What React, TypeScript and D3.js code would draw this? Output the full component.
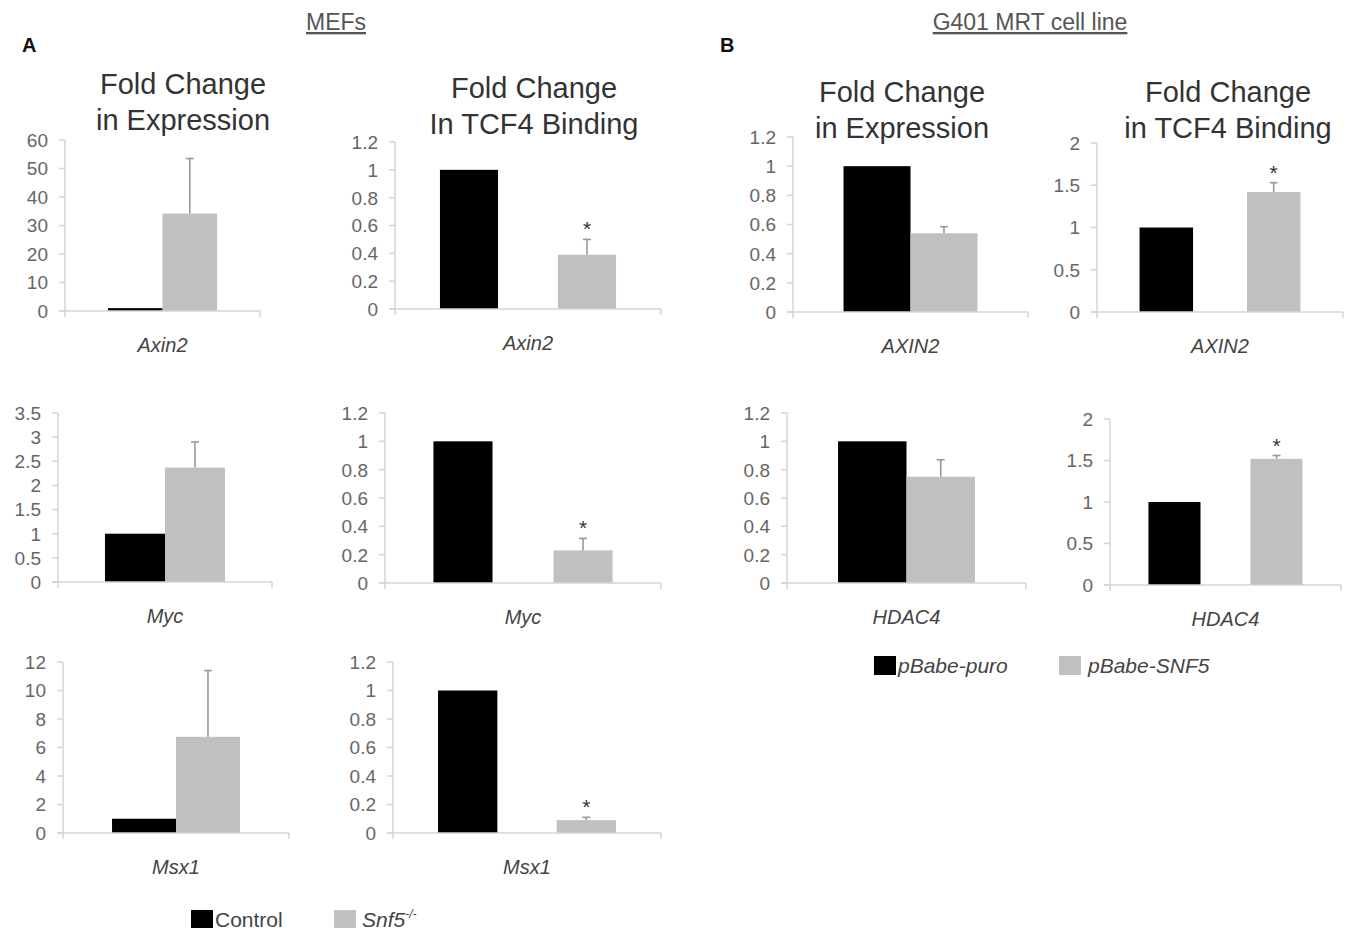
import * as d3 from 'd3'

// MEFs (panel A)
const genesA = ['Axin2', 'Myc', 'Msx1']
const exprControlA = [1, 1, 1]
const exprSnf5A = [34.2, 2.37, 6.75]
const exprSnf5ErrA = [19.3, 0.53, 4.65]
const exprTicksA = [
  [0, 10, 20, 30, 40, 50, 60],
  [0, 0.5, 1, 1.5, 2, 2.5, 3, 3.5],
  [0, 2, 4, 6, 8, 10, 12],
]
const bindControlA = [1, 1, 1]
const bindSnf5A = [0.39, 0.23, 0.09]
const bindSnf5ErrA = [0.11, 0.085, 0.02]
const bindTicksA = [0, 0.2, 0.4, 0.6, 0.8, 1, 1.2]

// G401 cell line (panel B)
const genesB = ['AXIN2', 'HDAC4']
const exprPuroB = [1, 1]
const exprSnf5B = [0.54, 0.75]
const exprSnf5ErrB = [0.045, 0.12]
const exprTicksB = [0, 0.2, 0.4, 0.6, 0.8, 1, 1.2]
const bindPuroB = [1, 1]
const bindSnf5B = [1.42, 1.52]
const bindSnf5ErrB = [0.11, 0.04]
const bindTicksB = [0, 0.5, 1, 1.5, 2]

const BLACK = '#000'
const GREY = '#c0c0c0'
const AXIS = '#d4d4d4'
const FONT = "'Liberation Sans', Arial, sans-serif"

interface PanelProps {
  gene: string
  values: number[]      // [control, treated]
  err: number
  ticks: number[]
  star?: boolean
  x0: number
  x1: number
  yTop: number
  yBot: number
  groupFrac: number     // share of the axis taken by the two bars
  innerPad: number
}

function Panel({ gene, values, err, ticks, star, x0, x1, yTop, yBot, groupFrac, innerPad }: PanelProps) {
  const outer = (1 / groupFrac - 1) / 2
  const xCat = d3.scaleBand().domain([gene]).range([x0, x1]).paddingInner(0).paddingOuter(outer)
  const xSer = d3.scaleBand().domain(['a', 'b']).range([0, xCat.bandwidth()]).paddingInner(innerPad)
  const y = d3.scaleLinear().domain([0, d3.max(ticks)!]).range([yBot, yTop])
  const gx = xCat(gene)!
  const bw = xSer.bandwidth()
  const errTop = y(values[1] + err)
  const cx = gx + xSer('b')! + bw / 2

  return (
    <g>
      {ticks.map(t => (
        <g key={t}>
          <line x1={x0 - 6} x2={x0} y1={y(t)} y2={y(t)} stroke={AXIS} strokeWidth={1.5} />
          <text x={x0 - 17} y={y(t)} dy="0.36em" textAnchor="end" fontSize={19} fill="#666" fontFamily={FONT}>
            {t}
          </text>
        </g>
      ))}
      <line x1={x0} x2={x0} y1={yTop} y2={yBot} stroke={AXIS} strokeWidth={1.5} />
      <rect x={gx + xSer('a')!} y={y(values[0])} width={bw} height={yBot - y(values[0])} fill={BLACK} />
      <rect x={gx + xSer('b')!} y={y(values[1])} width={bw} height={yBot - y(values[1])} fill={GREY} />
      <line x1={cx} x2={cx} y1={y(values[1])} y2={errTop} stroke="#999" strokeWidth={1.6} />
      <line x1={cx - 4} x2={cx + 4} y1={errTop} y2={errTop} stroke="#999" strokeWidth={1.6} />
      {star && (
        <text x={cx} y={errTop - 3} textAnchor="middle" fontSize={21} fill="#333" fontFamily={FONT}>*</text>
      )}
      <line x1={x0 - 6} x2={x1} y1={yBot} y2={yBot} stroke={AXIS} strokeWidth={1.5} />
      <line x1={x0} x2={x0} y1={yBot} y2={yBot + 6} stroke={AXIS} strokeWidth={1.5} />
      <line x1={x1} x2={x1} y1={yBot} y2={yBot + 6} stroke={AXIS} strokeWidth={1.5} />
      <text x={(x0 + x1) / 2} y={yBot + 41} textAnchor="middle" fontSize={20} fontStyle="italic" fill="#444" fontFamily={FONT}>
        {gene}
      </text>
    </g>
  )
}

function Title({ x, y, lines }: { x: number; y: number; lines: string[] }) {
  return (
    <text x={x} y={y} textAnchor="middle" fontSize={29} fill="#333" fontFamily={FONT}>
      {lines.map((l, i) => (
        <tspan key={i} x={x} dy={i === 0 ? 0 : 36}>{l}</tspan>
      ))}
    </text>
  )
}

// layout of the ten plots (axis left/right, top tick, zero line)
const layoutA = [
  { expr: { x0: 65, x1: 260, yTop: 140, yBot: 311, groupFrac: 0.56, innerPad: 0 },
    bind: { x0: 395, x1: 661, yTop: 142, yBot: 309, groupFrac: 0.662, innerPad: 0.508 } },
  { expr: { x0: 58, x1: 272, yTop: 413, yBot: 582, groupFrac: 0.561, innerPad: 0 },
    bind: { x0: 385, x1: 661, yTop: 413, yBot: 583, groupFrac: 0.649, innerPad: 0.508 } },
  { expr: { x0: 63, x1: 289, yTop: 662, yBot: 833, groupFrac: 0.566, innerPad: 0 },
    bind: { x0: 393, x1: 661, yTop: 662, yBot: 833, groupFrac: 0.664, innerPad: 0.5 } },
]
const layoutB = [
  { expr: { x0: 793, x1: 1028, yTop: 137, yBot: 312, groupFrac: 0.57, innerPad: 0 },
    bind: { x0: 1097, x1: 1343, yTop: 143, yBot: 312, groupFrac: 0.654, innerPad: 0.502 } },
  { expr: { x0: 787, x1: 1026, yTop: 413, yBot: 583, groupFrac: 0.573, innerPad: 0 },
    bind: { x0: 1110, x1: 1341, yTop: 419, yBot: 585, groupFrac: 0.667, innerPad: 0.49 } },
]

export default function App() {
  return (
    <svg width={1353} height={931} style={{ position: 'absolute', left: 0, top: 0, background: '#fff' }}>
      <rect width={1353} height={931} fill="#fff" />

      <text x={336} y={30} textAnchor="middle" fontSize={23} fill="#555" fontFamily={FONT} textDecoration="underline">MEFs</text>
      <text x={1030} y={30} textAnchor="middle" fontSize={23} fill="#555" fontFamily={FONT} textDecoration="underline">G401 MRT cell line</text>
      <text x={22} y={52} fontSize={20} fontWeight="bold" fill="#111" fontFamily={FONT}>A</text>
      <text x={720} y={52} fontSize={20} fontWeight="bold" fill="#111" fontFamily={FONT}>B</text>

      <Title x={183} y={94} lines={['Fold Change', 'in Expression']} />
      <Title x={534} y={98} lines={['Fold Change', 'In TCF4 Binding']} />
      <Title x={902} y={102} lines={['Fold Change', 'in Expression']} />
      <Title x={1228} y={102} lines={['Fold Change', 'in TCF4 Binding']} />

      {genesA.map((g, i) => (
        <g key={g}>
          <Panel gene={g} values={[exprControlA[i], exprSnf5A[i]]} err={exprSnf5ErrA[i]} ticks={exprTicksA[i]} {...layoutA[i].expr} />
          <Panel gene={g} values={[bindControlA[i], bindSnf5A[i]]} err={bindSnf5ErrA[i]} ticks={bindTicksA} star {...layoutA[i].bind} />
        </g>
      ))}
      {genesB.map((g, i) => (
        <g key={g}>
          <Panel gene={g} values={[exprPuroB[i], exprSnf5B[i]]} err={exprSnf5ErrB[i]} ticks={exprTicksB} {...layoutB[i].expr} />
          <Panel gene={g} values={[bindPuroB[i], bindSnf5B[i]]} err={bindSnf5ErrB[i]} ticks={bindTicksB} star {...layoutB[i].bind} />
        </g>
      ))}

      {/* legend A */}
      <rect x={191} y={910} width={22} height={18} fill={BLACK} />
      <text x={215} y={927} fontSize={21} fill="#444" fontFamily={FONT}>Control</text>
      <rect x={334} y={910} width={22} height={18} fill={GREY} />
      <text x={362} y={927} fontSize={21} fontStyle="italic" fill="#444" fontFamily={FONT}>
        Snf5<tspan fontSize={12} dy={-9}>-/-</tspan>
      </text>

      {/* legend B */}
      <rect x={874} y={656} width={22} height={19} fill={BLACK} />
      <text x={898} y={673} fontSize={21} fontStyle="italic" fill="#444" fontFamily={FONT}>pBabe-puro</text>
      <rect x={1059} y={656} width={22} height={19} fill={GREY} />
      <text x={1088} y={673} fontSize={21} fontStyle="italic" fill="#444" fontFamily={FONT}>pBabe-SNF5</text>
    </svg>
  )
}
